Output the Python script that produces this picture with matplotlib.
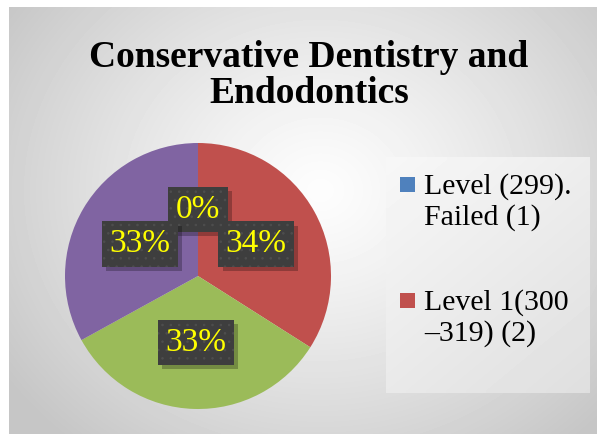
import numpy as np
import matplotlib.pyplot as plt
from matplotlib.patches import Rectangle
import matplotlib.patheffects as pe

# ---- data ----
categories = ["Level (299).\nFailed (1)", "Level 1(300\n–319) (2)", "Level 2 (3)", "Level 3 (4)"]
values = [0, 34, 33, 33]
colors = ["#4F81BD", "#C0504D", "#9BBB59", "#8064A2"]
title = "Conservative Dentistry and\nEndodontics"
n_legend_visible = 2

W, H = 597, 434
SERIF = ["Liberation Serif", "DejaVu Serif"]
plt.rcParams["hatch.linewidth"] = 0.6


class NoHatchShadow(pe.SimplePatchShadow):
    def draw_path(self, renderer, gc, tpath, affine, rgbFace):
        gc1 = renderer.new_gc()
        gc1.copy_properties(gc)
        gc1.set_hatch(None)
        super().draw_path(renderer, gc1, tpath, affine, rgbFace)
        gc1.restore()


fig = plt.figure(figsize=(W / 100, H / 100), dpi=100)
fig.patch.set_facecolor("white")

# overlay axes in pixel coordinates
ov = fig.add_axes([0, 0, 1, 1])
ov.set_axis_off()

# chart area background (radial gradient)
yy, xx = np.mgrid[7:H, 9:W]
d = np.hypot(xx - 320, (yy - 190) * 1.15)
v = 253 - 55 * np.clip(d / 380, 0, 1) ** 1.2
ov.imshow(v, cmap="gray", vmin=0, vmax=255, extent=[9, W, H, 7],
          aspect="auto", interpolation="bilinear", zorder=0)

# legend panel
ly, lx = np.mgrid[0:50, 0:50]
lv = 247 - 10 * (lx / 49) - 14 * (ly / 49)
ov.imshow(lv, cmap="gray", vmin=0, vmax=255, extent=[386, 590, 393, 157],
          aspect="auto", interpolation="bilinear", zorder=1)
ov.set_xlim(0, W)
ov.set_ylim(H, 0)

# title (baseline of the last line)
ov.text(309, 103, title, ha="center", va="baseline", fontsize=27,
        fontweight="bold", family=SERIF, color="black", linespacing=1.05, zorder=3)

# legend entries (only the first ones fit in the box)
entry_y = [177, 293]
for i in range(n_legend_visible):
    y0 = entry_y[i]
    ov.add_patch(Rectangle((400, y0), 15, 15, facecolor=colors[i], edgecolor="none", zorder=3))
    ov.text(424, y0 + 48, categories[i], ha="left", va="baseline", fontsize=21.5,
            family=SERIF, color="black", linespacing=1.2, zorder=3)

# pie
cx, cy, r = 198, 276, 133
pax = fig.add_axes([(cx - r) / W, (H - cy - r) / H, 2 * r / W, 2 * r / H])
pax.set_zorder(2)
pax.patch.set_alpha(0)
wedges, texts, autotexts = pax.pie(
    values, colors=colors, startangle=90, counterclock=False,
    autopct="%1.0f%%", pctdistance=0.5, radius=1,
    wedgeprops=dict(linewidth=0),
    textprops=dict(color="#FFFF00", fontsize=24, family=SERIF))
pax.set_xlim(-1, 1)
pax.set_ylim(-1, 1)
pax.set_aspect("equal")

# avoid overlap of the last label with the 0% label: mirror the second label
x2, y2 = autotexts[1].get_position()
autotexts[3].set_position((-x2, y2))

for t in autotexts:
    t.set_bbox(dict(boxstyle="square,pad=0.22", facecolor="#3e3e3e",
                    edgecolor="#4e4e4e", linewidth=0, hatch=".."))
    t.set_zorder(5)
    t.get_bbox_patch().set_path_effects(
        [NoHatchShadow(offset=(3, -3), shadow_rgbFace="black", alpha=0.25),
         pe.Normal()])

fig.savefig("out.png", dpi=100, facecolor=fig.get_facecolor())
